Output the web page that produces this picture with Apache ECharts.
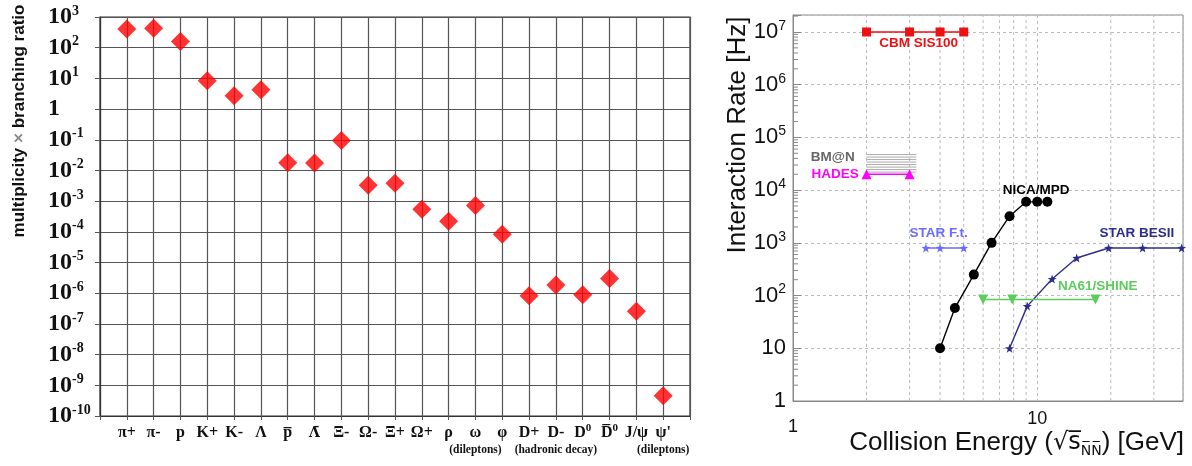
<!DOCTYPE html>
<html>
<head>
<meta charset="utf-8">
<script src="https://cdn.jsdelivr.net/npm/echarts@6/dist/echarts.min.js"></script>
<style>
html, body { margin: 0; padding: 0; background: #fff; }
#chart { width: 1192px; height: 466px; }
</style>
</head>
<body>
<div id="chart"></div>
<script>
// left panel: multiplicity x branching ratio per particle
const particles = ['π+', 'π-', 'p', 'K+', 'K-', 'Λ', 'p\u0305', 'Λ\u0304', 'Ξ-', 'Ω-', 'Ξ+', 'Ω+', 'ρ', 'ω', 'φ',
  'D+', 'D-', 'D0', 'D\u03050', 'J/ψ', "ψ'"];
const particleNotes = ['', '', '', '', '', '', '', '', '', '', '', '', '', '(dileptons)', '',
  '', '(hadronic decay)', '', '', '', '(dileptons)'];
const yields = [410, 430, 160, 8.3, 2.7, 4.3, 0.0178, 0.0175, 0.095, 0.0033, 0.0038, 5.4e-4, 2.2e-4, 7.2e-4, 8.3e-5,
  8.3e-7, 1.85e-6, 8.9e-7, 3.0e-6, 2.6e-7, 4.6e-10];
const thresholdLine = 1.4e-3;

// right panel: interaction rate vs collision energy
const cbmEnergy = [2, 3, 4, 5];
const cbmRate = [1e7, 1e7, 1e7, 1e7];
const hadesEnergy = [2, 3];
const hadesRate = [2e4, 2e4];
const bmnBand = [2, 3.2, 2.2e4, 5.1e4]; // energy from/to, rate from/to
const nicaEnergy = [4, 4.6, 5.5, 6.5, 7.7, 9, 10, 11];
const nicaRate = [10, 58, 250, 1000, 3200, 6000, 6000, 6000];
const starFtEnergy = [3.5, 4.0, 5.0];
const starFtRate = [800, 800, 800];
const starBesEnergy = [7.7, 9.1, 11.5, 14.5, 19.6, 27, 39];
const starBesRate = [10, 63, 206, 516, 800, 800, 800];
const na61Energy = [6.0, 7.9, 17.3];
const na61Rate = [84, 84, 84];
const xGridLines = [2, 3, 4, 5, 6, 7, 8, 9, 20, 30];
const yMinorTicks = [];
for (let e = 0; e < 8; e++) {
  for (let m = 2; m <= 9; m++) {
    if (m * Math.pow(10, e) < 2.1e7) yMinorTicks.push(m * Math.pow(10, e));
  }
}

const star = 'path://M0,-10L2.35,-3.24L9.51,-3.09L3.8,1.24L5.88,8.09L0,4L-5.88,8.09L-3.8,1.24L-9.51,-3.09L-2.35,-3.24Z';
const serif = 'Liberation Serif';
const sans = 'Liberation Sans';

const zip = (xs, ys) => xs.map((x, i) => [x, ys[i]]);
const isPow10 = (v) => Math.abs(Math.log10(v) - Math.round(Math.log10(v))) < 1e-6;

// small labels on points of the right panel
const tag = (text, coord, color, pos) => ({
  symbol: 'circle',
  symbolSize: 0,
  silent: true,
  itemStyle: { color: 'transparent' },
  label: {
    show: true,
    position: pos || 'inside',
    distance: 0,
    formatter: text,
    color,
    fontFamily: sans,
    fontWeight: 'bold',
    fontSize: 13.5,
  },
  data: [{ coord }],
});

const lineSeries = (name, xs, ys, color, symbol, size, extra) => Object.assign({
  name,
  type: 'line',
  xAxisIndex: 1,
  yAxisIndex: 1,
  data: zip(xs, ys),
  symbol,
  symbolSize: size,
  showAllSymbol: true,
  itemStyle: { color },
  lineStyle: { color, width: 1.4 },
  animation: false,
  z: 5,
}, extra);

const chart = echarts.init(document.getElementById('chart'));
chart.setOption({
  animation: false,
  grid: [
    { left: 100, top: 17, width: 590, bottom: 50, show: true, borderColor: '#333', borderWidth: 1.2 },
    { left: 793, top: 15, width: 390, bottom: 65, show: true, borderColor: '#888', borderWidth: 1 },
  ],
  xAxis: [
    {
      gridIndex: 0,
      type: 'value',
      min: 0,
      max: 22,
      interval: 1,
      axisLine: { lineStyle: { color: '#333', width: 1.2 } },
      axisTick: { show: true, length: 4, lineStyle: { color: '#555' } },
      splitLine: { show: true, lineStyle: { color: '#555', width: 1.2 } },
      axisLabel: {
        margin: 7,
        formatter: (v) => {
          const i = Math.round(v) - 1;
          if (i < 0 || i >= particles.length) return '';
          const name = particles[i];
          let txt;
          const m = name.match(/^(D.*)0$/);
          if (m) txt = `{m|${m[1]}}{ms|0}`;
          else if (/^Λ./.test(name)) txt = `{mg|${name}}`;
          else txt = `{m|${name}}`;
          if (particleNotes[i]) txt += `\n{n|${particleNotes[i]}}`;
          return txt;
        },
        rich: {
          m: { fontFamily: serif, fontWeight: 'bold', fontSize: 16, lineHeight: 20, color: '#111' },
          mg: { fontFamily: 'DejaVu Serif', fontWeight: 'bold', fontSize: 14, lineHeight: 20, color: '#111' },
          ms: { fontFamily: serif, fontWeight: 'bold', fontSize: 11, lineHeight: 14, verticalAlign: 'top', color: '#111' },
          n: { fontFamily: serif, fontWeight: 'bold', fontSize: 11.5, lineHeight: 14, color: '#111' },
        },
      },
    },
    {
      gridIndex: 1,
      type: 'log',
      logBase: 10,
      min: 1,
      max: 39.5,
      interval: 1,
      axisLine: { lineStyle: { color: '#888' } },
      axisTick: { show: false },
      splitLine: { show: true, lineStyle: { color: '#bbb', type: [3, 3] } },
      axisLabel: {
        margin: 9,
        formatter: (v) => {
          if (!isPow10(v)) return '';
          return Math.round(v) === 1 ? '{lo|1}' : `{hi|${Math.round(v)}}`;
        },
        rich: {
          lo: { fontFamily: sans, fontSize: 18, color: '#111', padding: [8, 0, 0, 0] },
          hi: { fontFamily: sans, fontSize: 18, color: '#111' },
        },
      },
    },
  ],
  yAxis: [
    {
      gridIndex: 0,
      type: 'log',
      logBase: 10,
      min: 1e-10,
      max: 1e3,
      interval: 1,
      axisLine: { lineStyle: { color: '#333', width: 1.2 } },
      axisTick: { show: true, length: 5, lineStyle: { color: '#555' } },
      splitLine: { show: true, lineStyle: { color: '#555', width: 1.2 } },
      axisLabel: {
        align: 'left',
        margin: 52,
        formatter: (v) => {
          const e = Math.round(Math.log10(v));
          return e === 0 ? '{b|1}' : `{b|10}{s|${e}}`;
        },
        rich: {
          b: { fontFamily: serif, fontWeight: 'bold', fontSize: 24, lineHeight: 26, color: '#111' },
          s: { fontFamily: serif, fontWeight: 'bold', fontSize: 14, lineHeight: 16, verticalAlign: 'top', color: '#111' },
        },
      },
    },
    {
      gridIndex: 1,
      type: 'log',
      logBase: 10,
      min: 1,
      max: 2.1e7,
      interval: 1,
      axisLine: { lineStyle: { color: '#888' } },
      axisTick: { show: true, inside: true, length: 8, lineStyle: { color: '#888' } },
      splitLine: { show: true, lineStyle: { color: '#bbb', type: [3, 3] } },
      axisLabel: {
        margin: 7,
        formatter: (v) => {
          if (!isPow10(v)) return '';
          const e = Math.round(Math.log10(v));
          if (e === 0) return '{b|1}';
          if (e === 1) return '{b|10}';
          return `{b|10}{s|${e}}`;
        },
        rich: {
          b: { fontFamily: sans, fontSize: 22, lineHeight: 26, color: '#111' },
          s: { fontFamily: sans, fontSize: 14, lineHeight: 16, verticalAlign: 'top', color: '#111' },
        },
      },
    },
  ],
  graphic: [
    {
      type: 'text',
      x: 19,
      y: 121,
      rotation: Math.PI / 2,
      style: {
        text: '{a|multiplicity }{x|×}{a| branching ratio}',
        align: 'center',
        verticalAlign: 'middle',
        textAlign: 'center',
        textVerticalAlign: 'middle',
        rich: {
          a: { fontFamily: sans, fontWeight: 'bold', fontSize: 17, fill: '#111' },
          x: { fontFamily: sans, fontWeight: 'bold', fontSize: 17, fill: '#888' },
        },
      },
    },
    {
      type: 'text',
      x: 738,
      y: 135,
      rotation: Math.PI / 2,
      style: {
        text: 'Interaction Rate [Hz]',
        font: `26px "${sans}"`,
        fill: '#111',
        align: 'center',
        verticalAlign: 'middle',
        textAlign: 'center',
        textVerticalAlign: 'middle',
      },
    },
    {
      type: 'text',
      x: 1184,
      y: 443,
      style: {
        text: '{a|Collision Energy (}{r|√}{r|s\u0305}{n|N\u0305N\u0305}{a|) [GeV]}',
        align: 'right',
        verticalAlign: 'middle',
        textAlign: 'right',
        textVerticalAlign: 'middle',
        rich: {
          a: { fontFamily: sans, fontSize: 26, lineHeight: 30, fill: '#111' },
          r: { fontFamily: 'DejaVu Sans', fontSize: 24, lineHeight: 30, fill: '#111' },
          n: { fontFamily: 'DejaVu Sans', fontSize: 14, lineHeight: 14, verticalAlign: 'bottom', fill: '#111' },
        },
      },
    },
  ],
  series: [
    {
      name: 'yield',
      type: 'scatter',
      xAxisIndex: 0,
      yAxisIndex: 0,
      symbol: 'diamond',
      symbolSize: 19,
      itemStyle: { color: '#ff0000' },
      data: yields.map((v, i) => [i + 1, v]),
      markLine: {
        silent: true,
        symbol: 'none',
        label: { show: false },
        lineStyle: { color: '#000', width: 2.5, type: 'solid' },
        data: [{ yAxis: thresholdLine }],
      },
      z: 5,
    },
    {
      name: 'grid2-x',
      type: 'custom',
      xAxisIndex: 1,
      yAxisIndex: 1,
      silent: true,
      z: 1,
      data: xGridLines.map((v) => [v, 1]),
      renderItem: (params, api) => {
        const a = api.coord([api.value(0), 1]);
        const b = api.coord([api.value(0), 2.1e7]);
        return {
          type: 'line',
          shape: { x1: a[0], y1: a[1], x2: b[0], y2: b[1] },
          style: { stroke: '#bbb', lineWidth: 1, lineDash: [3, 3] },
        };
      },
    },
    {
      name: 'grid2-yminor',
      type: 'custom',
      xAxisIndex: 1,
      yAxisIndex: 1,
      silent: true,
      z: 1,
      data: yMinorTicks.map((v) => [1, v]),
      renderItem: (params, api) => {
        const a = api.coord([1, api.value(1)]);
        return {
          type: 'line',
          shape: { x1: a[0], y1: a[1], x2: a[0] + 5, y2: a[1] },
          style: { stroke: '#888', lineWidth: 1 },
        };
      },
    },
    {
      name: 'BM@N',
      type: 'custom',
      xAxisIndex: 1,
      yAxisIndex: 1,
      silent: true,
      z: 3,
      data: [bmnBand],
      encode: { x: [0, 1], y: [2, 3] },
      renderItem: (params, api) => {
        const p0 = api.coord([api.value(0), api.value(2)]);
        const p1 = api.coord([api.value(1), api.value(3)]);
        const lines = [];
        for (let y = p0[1]; y >= p1[1]; y -= 2.5) {
          lines.push({
            type: 'line',
            shape: { x1: p0[0], y1: y, x2: p1[0], y2: y },
            style: { stroke: '#aaa', lineWidth: 1 },
          });
        }
        return { type: 'group', children: lines };
      },
      markPoint: tag('BM@N', [1.79, 4.27e4], '#666', 'left'),
    },
    lineSeries('CBM SIS100', cbmEnergy, cbmRate, '#ee1111', 'rect', 9, {
      markPoint: tag('CBM SIS100', [3.27, 6.2e6], '#ee1111'),
    }),
    lineSeries('HADES', hadesEnergy, hadesRate, '#ff00ff', 'triangle', 10, {
      markPoint: tag('HADES', [1.86, 2.0e4], '#ff00ff', 'left'),
    }),
    lineSeries('NICA/MPD', nicaEnergy, nicaRate, '#000', 'circle', 10, {
      markPoint: tag('NICA/MPD', [9.9, 1.0e4], '#000'),
    }),
    lineSeries('STAR F.t.', starFtEnergy, starFtRate, '#6b6bff', star, 9, {
      markPoint: tag('STAR F.t.', [3.95, 1.55e3], '#6b6bff'),
    }),
    lineSeries('STAR BESII', starBesEnergy, starBesRate, '#2c2c8c', star, 9, {
      markPoint: tag('STAR BESII', [25.6, 1.55e3], '#2c2c8c'),
    }),
    lineSeries('NA61/SHINE', na61Energy, na61Rate, '#5ccc5c', 'triangle', 10, {
      symbolRotate: 180,
      markPoint: tag('NA61/SHINE', [17.7, 152], '#5ccc5c'),
    }),
  ],
});
</script>
</body>
</html>
